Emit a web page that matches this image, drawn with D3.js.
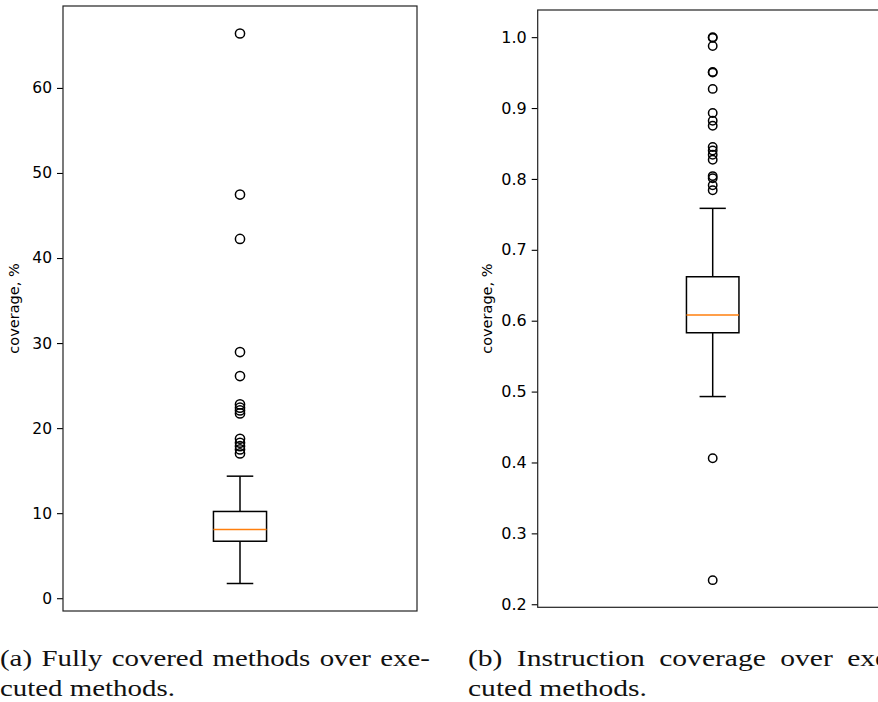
<!DOCTYPE html>
<html>
<head>
<meta charset="utf-8">
<script src="https://cdn.jsdelivr.net/npm/d3@7"></script>
<style>
  body { margin: 0; background: #fff; }
  svg { display: block; }
</style>
</head>
<body>
<div id="chart"></div>
<script>
// (a) fully covered methods over executed methods, %
// box = whisker low, q1, median, q3, whisker high
let boxA = [1.73, 6.7, 8.08, 10.2, 14.35];
let fliersA = [66.4, 47.46, 42.24, 28.94, 26.12, 22.79, 22.4, 22.08, 21.73, 18.75, 18.28, 17.88, 17.49, 17.02];
let ticksA = [0, 10, 20, 30, 40, 50, 60];

// (b) instruction coverage over executed methods
let boxB = [0.493, 0.583, 0.608, 0.662, 0.7585];
let fliersB = [1.0, 0.999, 0.9875, 0.951, 0.95, 0.927, 0.893, 0.882, 0.875, 0.845, 0.84, 0.834, 0.827,
               0.804, 0.801, 0.791, 0.784, 0.406, 0.234];
let ticksB = [0.2, 0.3, 0.4, 0.5, 0.6, 0.7, 0.8, 0.9, 1.0];

let yLabel = "coverage, %";
let captionA = [["(a)", "Fully", "covered", "methods", "over", "exe-"], "cuted methods."];
let captionB = [["(b)", "Instruction", "coverage", "over", "exe-"], "cuted methods."];

let width = 878;
let height = 702;

let svg = d3.select('#chart')
    .append('svg')
        .attr('width', width)
        .attr('height', height);

svg.append('rect').attr('width', width).attr('height', height).attr('fill', '#fff');

function panel(p) {
    let g = svg.append('g')
        .attr('transform', 'translate(' + p.x + ',' + p.y + ')');

    // matplotlib style autoscale: 5% margin around all the data
    let all = p.box.concat(p.fliers);
    let lo = d3.min(all), hi = d3.max(all), pad = (hi - lo) * 0.05;
    let y = d3.scaleLinear().domain([lo - pad, hi + pad]).range([p.h, 0]);
    let x = d3.scaleLinear().domain([0.5, 1.5]).range([0, p.w]);

    let b = p.box;
    let stroke = '#000';

    // whiskers
    g.append('line')
        .attr('x1', x(1)).attr('x2', x(1))
        .attr('y1', y(b[0])).attr('y2', y(b[1]))
        .attr('stroke', stroke).attr('stroke-width', 1.5);
    g.append('line')
        .attr('x1', x(1)).attr('x2', x(1))
        .attr('y1', y(b[3])).attr('y2', y(b[4]))
        .attr('stroke', stroke).attr('stroke-width', 1.5);
    // caps
    [b[0], b[4]].forEach(function(v) {
        g.append('line')
            .attr('x1', x(1 - 0.0375)).attr('x2', x(1 + 0.0375))
            .attr('y1', y(v)).attr('y2', y(v))
            .attr('stroke', stroke).attr('stroke-width', 1.5);
    });
    // box
    g.append('rect')
        .attr('x', x(0.925))
        .attr('y', y(b[3]))
        .attr('width', x(1.075) - x(0.925))
        .attr('height', y(b[1]) - y(b[3]))
        .attr('fill', 'none')
        .attr('stroke', stroke).attr('stroke-width', 1.5);
    // median
    g.append('line')
        .attr('x1', x(0.925)).attr('x2', x(1.075))
        .attr('y1', y(b[2])).attr('y2', y(b[2]))
        .attr('stroke', '#ff7f0e').attr('stroke-width', 1.5);

    // outliers
    g.selectAll('circle.flier')
        .data(p.fliers)
        .enter().append('circle')
            .attr('class', 'flier')
            .attr('cx', x(1))
            .attr('cy', function(d) { return y(d); })
            .attr('r', p.r)
            .attr('fill', 'none')
            .attr('stroke', stroke)
            .attr('stroke-width', 1.5);

    // y axis
    let axis = d3.axisLeft(y)
        .tickValues(p.ticks)
        .tickFormat(p.fmt)
        .tickSize(6)
        .tickPadding(5);
    let ax = g.append('g').call(axis);
    ax.select('.domain').remove();
    ax.selectAll('.tick line').attr('stroke', '#000').attr('stroke-width', 1.1);
    ax.selectAll('.tick text')
        .attr('fill', '#000')
        .style('font-family', 'DejaVu Sans')
        .style('font-size', p.fs + 'px');

    // frame
    g.append('rect')
        .attr('width', p.w).attr('height', p.h)
        .attr('fill', 'none')
        .attr('stroke', '#222').attr('stroke-width', 1.2);

    svg.append('text')
        .attr('transform', 'translate(' + p.lx + ',' + (p.y + p.h / 2) + ') rotate(-90)')
        .attr('text-anchor', 'middle')
        .style('font-family', 'DejaVu Sans')
        .style('font-size', '14.5px')
        .attr('fill', '#000')
        .text(yLabel);
}

panel({x: 63, y: 6, w: 354, h: 605, box: boxA, fliers: fliersA, ticks: ticksA,
       fmt: d3.format('d'), fs: 15.5, r: 4.6, lx: 19});
panel({x: 537.7, y: 10, w: 350, h: 597.3, box: boxB, fliers: fliersB, ticks: ticksB,
       fmt: d3.format('.1f'), fs: 16, r: 4.2, lx: 492});

// captions, justified first line like LaTeX subcaptions
function caption(x0, lines, lineW, line2W) {
    let fs = 24;
    let g = svg.append('g');
    let probe = g.append('text')
        .style('font-family', 'Liberation Serif').style('font-size', fs + 'px')
        .text(lines[1]);
    let sx = line2W / probe.node().getComputedTextLength();
    probe.remove();
    g.attr('transform', 'translate(' + x0 + ',0) scale(' + sx + ',1)');

    let words = lines[0].map(function(w) {
        let t = g.append('text')
            .style('font-family', 'Liberation Serif').style('font-size', fs + 'px')
            .attr('fill', '#111')
            .attr('y', 666)
            .text(w);
        return {t: t, w: t.node().getComputedTextLength()};
    });
    let gap = (lineW / sx - d3.sum(words, function(d) { return d.w; })) / (words.length - 1);
    let cx = 0;
    words.forEach(function(d) {
        d.t.attr('x', cx);
        cx += d.w + gap;
    });
    g.append('text')
        .style('font-family', 'Liberation Serif').style('font-size', fs + 'px')
        .attr('fill', '#111')
        .attr('x', 0).attr('y', 696)
        .text(lines[1]);
}

caption(0, captionA, 430, 175);
caption(468, captionB, 430, 179);
</script>
</body>
</html>
